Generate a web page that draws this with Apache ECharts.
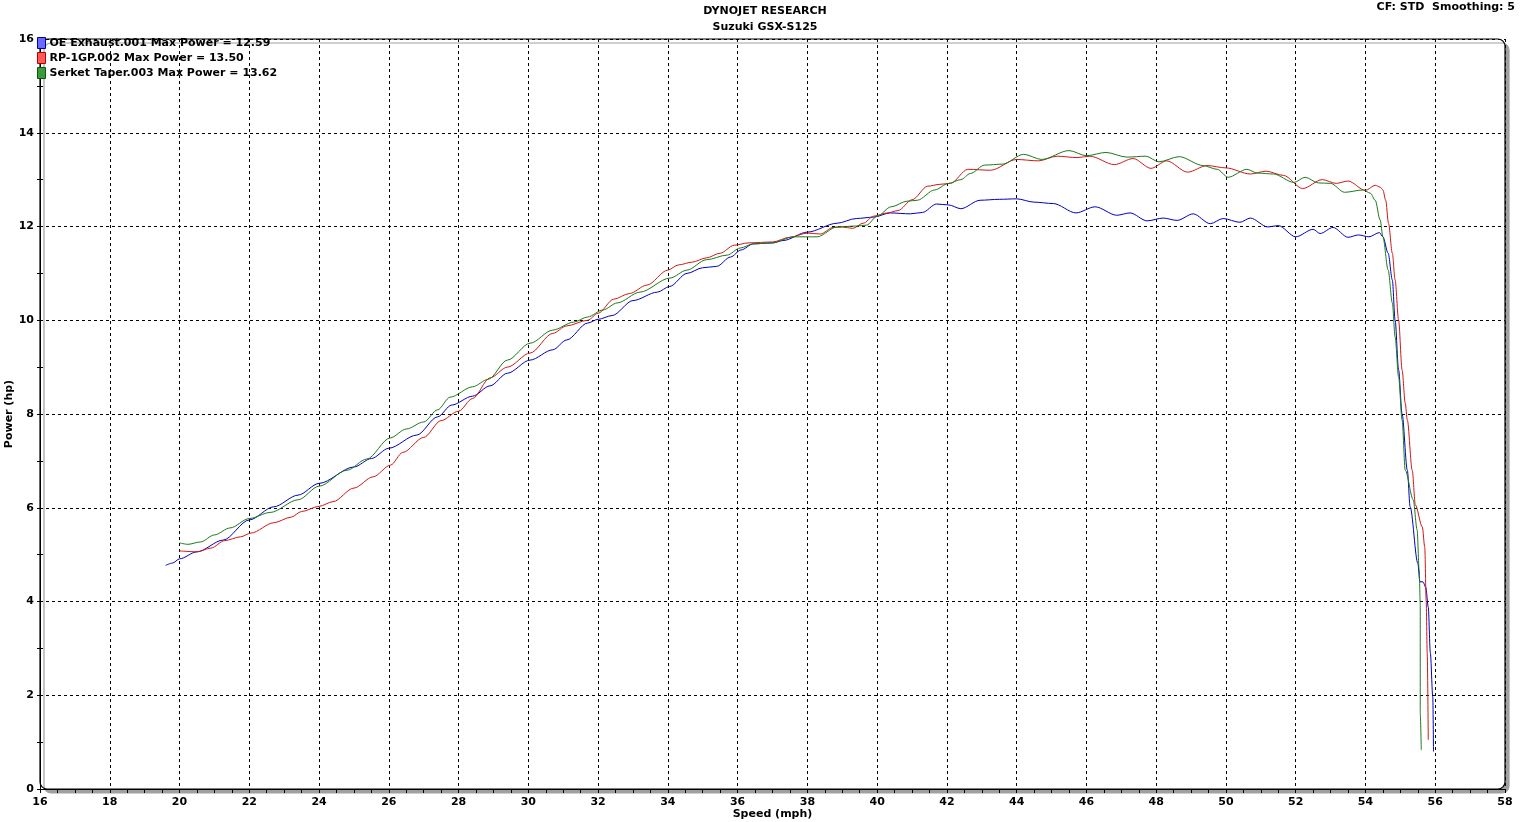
<!DOCTYPE html>
<html>
<head>
<meta charset="utf-8">
<script src="https://cdn.jsdelivr.net/npm/echarts@6/dist/echarts.min.js"></script>
<style>
html,body{margin:0;padding:0;background:#fff;}
#chart{width:1530px;height:822px;}
</style>
</head>
<body>
<div id="chart"></div>
<script>
const seriesNames = ['OE Exhaust.001', 'RP-1GP.002', 'Serket Taper.003'];
const maxPower = ['12.59', '13.50', '13.62'];
const xTicks = [16,18,20,22,24,26,28,30,32,34,36,38,40,42,44,46,48,50,52,54,56,58];
const yTicks = [0,2,4,6,8,10,12,14,16];

const oeExhaust = [[19.6,4.77],[19.8,4.82],[20.0,4.91],[20.5,5.06],[21.25,5.31],[22.0,5.74],[22.7,6.02],[23.4,6.27],[24.0,6.52],[25.0,6.87],[25.5,7.05],[26.0,7.27],[26.8,7.55],[27.4,7.94],[27.8,8.19],[28.4,8.38],[28.9,8.6],[29.4,8.87],[30.05,9.15],[30.7,9.37],[31.1,9.58],[31.7,9.94],[32.0,10.02],[32.4,10.1],[33.0,10.42],[33.7,10.6],[34.05,10.72],[34.55,11.0],[35.0,11.12],[35.4,11.15],[35.8,11.35],[36.1,11.5],[36.45,11.63],[37.0,11.65],[37.3,11.7],[38.0,11.88],[38.85,12.07],[39.4,12.17],[39.9,12.2],[40.37,12.29],[40.95,12.27],[41.3,12.3],[41.7,12.48],[42.05,12.46],[42.4,12.38],[42.95,12.56],[43.5,12.58],[44.0,12.59],[44.5,12.52],[45.05,12.49],[45.7,12.29],[46.25,12.42],[46.87,12.24],[47.25,12.29],[47.74,12.12],[48.2,12.18],[48.6,12.13],[49.06,12.27],[49.55,12.06],[49.92,12.17],[50.4,12.09],[50.7,12.18],[51.2,11.99],[51.5,12.02],[52.0,11.78],[52.5,11.94],[52.7,11.85],[53.07,11.98],[53.5,11.77],[53.8,11.82],[54.1,11.78],[54.4,11.87],[54.5,11.78],[54.65,11.43],[54.77,10.86],[54.85,10.0],[54.95,8.94],[55.05,8.0],[55.2,6.8],[55.28,6.02],[55.5,4.82],[55.56,4.42],[55.65,4.42],[55.73,4.3],[55.8,3.88],[55.86,2.9],[55.93,1.96],[55.95,0.8]];

const rp1gp = [[20.0,5.08],[20.5,5.06],[20.9,5.14],[21.3,5.3],[21.75,5.38],[22.05,5.46],[22.7,5.68],[23.2,5.8],[23.5,5.92],[24.0,6.03],[24.4,6.13],[25.0,6.42],[25.55,6.66],[26.05,6.91],[26.4,7.18],[27.0,7.5],[27.5,7.86],[28.0,8.06],[28.4,8.33],[28.9,8.77],[29.4,9.0],[30.05,9.3],[30.7,9.72],[31.1,9.88],[31.7,10.0],[32.0,10.15],[32.45,10.45],[32.9,10.57],[33.4,10.75],[34.0,11.07],[34.3,11.18],[34.7,11.24],[35.1,11.33],[35.5,11.43],[35.9,11.6],[36.3,11.65],[37.0,11.67],[37.5,11.77],[38.0,11.86],[38.37,11.84],[38.74,11.98],[39.0,11.99],[39.3,11.96],[39.6,12.07],[39.9,12.22],[40.3,12.29],[40.6,12.34],[41.0,12.57],[41.45,12.86],[41.8,12.9],[42.1,12.92],[42.6,13.22],[43.25,13.2],[44.0,13.43],[44.62,13.4],[45.16,13.5],[45.73,13.47],[46.1,13.5],[46.8,13.32],[47.34,13.45],[47.85,13.24],[48.3,13.4],[48.9,13.16],[49.46,13.3],[50.0,13.25],[50.7,13.12],[51.15,13.18],[51.65,13.09],[52.2,12.81],[52.76,13.0],[53.16,12.92],[53.5,12.97],[54.0,12.77],[54.28,12.88],[54.42,12.84],[54.5,12.78],[54.58,12.56],[54.66,12.07],[54.77,11.43],[54.85,10.86],[54.95,10.0],[55.05,8.94],[55.14,8.23],[55.2,7.87],[55.34,6.8],[55.43,6.06],[55.63,5.59],[55.7,5.16],[55.74,4.03],[55.77,2.9],[55.8,1.05]];

const serketTaper = [[20.0,5.25],[20.24,5.22],[20.6,5.27],[21.0,5.42],[21.45,5.57],[22.0,5.77],[22.6,5.9],[23.4,6.17],[24.0,6.46],[24.8,6.8],[25.37,7.04],[26.04,7.49],[26.5,7.68],[27.0,7.83],[27.4,8.09],[27.76,8.36],[28.4,8.58],[28.85,8.74],[29.4,9.15],[30.05,9.51],[30.7,9.79],[31.3,9.96],[31.7,10.07],[32.14,10.22],[32.55,10.37],[33.2,10.6],[34.06,10.9],[34.55,11.07],[35.1,11.29],[35.7,11.39],[36.07,11.54],[36.45,11.63],[37.0,11.65],[37.6,11.78],[38.28,11.78],[38.85,11.99],[39.4,12.01],[39.7,12.03],[40.0,12.22],[40.4,12.42],[40.86,12.54],[41.15,12.56],[41.65,12.78],[42.05,12.92],[42.4,13.0],[42.67,13.13],[43.08,13.31],[43.59,13.33],[44.2,13.54],[44.72,13.43],[45.5,13.62],[46.0,13.51],[46.56,13.58],[47.16,13.48],[47.7,13.5],[48.08,13.38],[48.66,13.49],[49.34,13.3],[49.75,13.22],[50.06,13.05],[50.6,13.22],[50.9,13.14],[51.36,13.12],[51.95,12.94],[52.27,13.05],[52.65,12.93],[53.0,12.92],[53.4,12.73],[53.94,12.78],[54.14,12.71],[54.28,12.56],[54.42,12.14],[54.5,11.78],[54.65,11.07],[54.77,10.37],[54.85,9.64],[54.95,8.79],[55.05,7.87],[55.14,6.8],[55.37,6.17],[55.48,5.53],[55.54,4.67],[55.57,3.97],[55.57,1.62],[55.6,0.83]];

const lineColors = ['#0000c0', '#d01818', '#1b7a1b'];
const legendFill = ['#6a6aff', '#ff5a5a', '#3c9a3c'];
const legendBorder = ['#00009a', '#b00000', '#0b5a0b'];
const dataSets = [oeExhaust, rp1gp, serketTaper];

const FONT = 'DejaVu Sans';
const chart = echarts.init(document.getElementById('chart'), null, {renderer: 'canvas'});

const GL = 40, GT = 39, GR = 25, GB = 33;
const W = 1530, H = 822;

const baseAxisLabel = {fontFamily: FONT, fontWeight: 'bold', fontSize: 11, color: '#000'};

const option = {
  backgroundColor: '#fff',
  animation: false,
  title: [
    {text: 'DYNOJET RESEARCH', left: 'center', top: 1, textStyle: {fontFamily: FONT, fontWeight: 'bold', fontSize: 11, color: '#000'}},
    {text: 'Suzuki GSX-S125', left: 'center', top: 17, textStyle: {fontFamily: FONT, fontWeight: 'bold', fontSize: 11, color: '#000'}},
    {text: 'CF: STD  Smoothing: 5', right: 10, top: -3, textStyle: {fontFamily: FONT, fontWeight: 'bold', fontSize: 11, color: '#000'}}
  ],
  graphic: [
    {type: 'rect', z: -10, silent: true,
     shape: {x: GL, y: GT, width: W - GL - GR, height: H - GT - GB, r: 7},
     style: {fill: '#fff', stroke: '#000', lineWidth: 1.2, shadowColor: '#a0a0a0', shadowOffsetX: 4, shadowOffsetY: 4, shadowBlur: 0}}
  ],
  legend: {
    orient: 'vertical', left: 37, top: 37, padding: 0, itemWidth: 8, itemHeight: 11, itemGap: 3,
    selectedMode: false,
    data: seriesNames.map((n, i) => ({name: n, icon: 'rect', itemStyle: {color: legendFill[i], borderColor: legendBorder[i], borderWidth: 1}})),
    formatter: name => name + ' Max Power = ' + maxPower[seriesNames.indexOf(name)],
    textStyle: {fontFamily: FONT, fontWeight: 'bold', fontSize: 11, lineHeight: 11, color: '#000', padding: [0,0,0,-1]}
  },
  grid: {left: GL, top: GT, right: GR, bottom: GB, containLabel: false, outerBoundsMode: 'none'},
  xAxis: {
    type: 'value', min: 16, max: 58, interval: 2,
    name: 'Speed (mph)', nameLocation: 'middle', nameGap: 20, nameMoveOverlap: false,
    nameTextStyle: {fontFamily: FONT, fontWeight: 'bold', fontSize: 11, color: '#000'},
    axisLine: {show: true, lineStyle: {color: '#000', width: 1}},
    axisTick: {show: true, length: 4, lineStyle: {color: '#000'}},
    minorTick: {show: true, splitNumber: 4, length: 4, lineStyle: {color: '#000'}},
    axisLabel: Object.assign({margin: 8}, baseAxisLabel),
    splitLine: {show: true, lineStyle: {color: '#000', type: [3,3], width: 1}}
  },
  yAxis: [{
    type: 'value', min: 0, max: 16, interval: 2,
    name: 'Power (hp)', nameLocation: 'middle', nameGap: 25, nameRotate: 90, nameMoveOverlap: false,
    nameTextStyle: {fontFamily: FONT, fontWeight: 'bold', fontSize: 11, color: '#000'},
    axisLine: {show: true, lineStyle: {color: '#000', width: 1}},
    axisTick: {show: true, length: 3, lineStyle: {color: '#000'}},
    minorTick: {show: true, splitNumber: 2, length: 3, lineStyle: {color: '#000'}},
    axisLabel: Object.assign({margin: 6}, baseAxisLabel),
    splitLine: {show: true, lineStyle: {color: '#000', type: [3,3], width: 1}}
  }, {
    type: 'value', min: 0, max: 16, interval: 2, position: 'left', offset: 0,
    axisLine: {show: false},
    axisTick: {show: true, inside: true, length: 3, lineStyle: {color: '#000'}},
    minorTick: {show: true, splitNumber: 2, length: 3, lineStyle: {color: '#000'}},
    axisLabel: {show: false},
    splitLine: {show: false}
  }],
  series: dataSets.map((d, i) => ({
    name: seriesNames[i], type: 'line', data: d, yAxisIndex: 0,
    showSymbol: false, symbol: 'none', smooth: 0.3, smoothMonotone: 'x',
    lineStyle: {color: lineColors[i], width: 1},
    itemStyle: {color: legendFill[i]},
    z: 3 + i
  }))
};
chart.setOption(option);
</script>
</body>
</html>
